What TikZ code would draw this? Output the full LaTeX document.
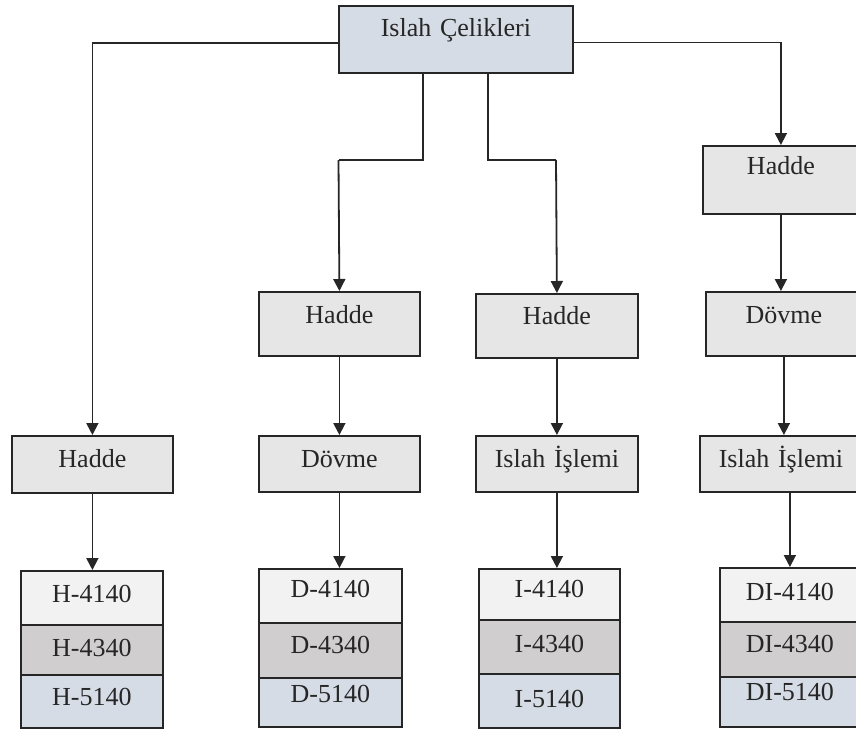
\documentclass[tikz,border=0pt]{standalone}
\usepackage{fontspec}
\setmainfont{Liberation Serif}
\usetikzlibrary{arrows.meta}
\definecolor{topc}{HTML}{D6DCE5}
\definecolor{grayc}{HTML}{E6E6E6}
\definecolor{rowa}{HTML}{F2F2F2}
\definecolor{rowb}{HTML}{D0CECE}
\definecolor{rowc}{HTML}{D6DCE5}
\definecolor{ink}{HTML}{262626}
\tikzset{
  box/.style={draw=ink, line width=1.8pt, rectangle, inner sep=0pt, anchor=north west,
    align=center, text=ink, font=\fontsize{26}{30}\selectfont},
  conn/.style={draw=ink, line width=1.8pt, -{Triangle[width=12pt,length=12pt]}},
  link/.style={draw=ink, line width=1.8pt}
}
% name, x, y, width, text height, text depth, fill, text
\newcommand\bx[8]{\node[box, fill=#7, text width=#4pt, text height=#5pt, text depth=#6pt] (#1) at (#2,#3) {#8};}
\begin{document}
\begin{tikzpicture}[x=1pt,y=-1pt]
\useasboundingbox (0,0) rectangle (856,728);
\clip (0,0) rectangle (856,728);
\fill[white] (0,0) rectangle (856,728);
% top
\bx{top}{338}{5}{234}{31}{36}{topc}{Islah Çelikleri}
% column 1
\bx{c1a}{11}{435}{161}{32}{25}{grayc}{Hadde}
\bx{c1r1}{20}{570}{142}{32}{22}{rowa}{H-4140}
\bx{c1r2}{20}{624}{142}{32}{18}{rowb}{H-4340}
\bx{c1r3}{20}{674}{142}{31}{22}{rowc}{H-5140}
% column 2
\bx{c2a}{258}{291}{161}{32}{32}{grayc}{Hadde}
\bx{c2b}{258}{435}{161}{32}{24}{grayc}{Dövme}
\bx{c2r1}{258}{568}{143}{29}{25}{rowa}{D-4140}
\bx{c2r2}{258}{622}{143}{31}{24}{rowb}{D-4340}
\bx{c2r3}{258}{677}{143}{25}{24}{rowc}{D-5140}
% column 3
\bx{c3a}{475}{293}{162}{31}{33}{grayc}{Hadde}
\bx{c3b}{475}{435}{162}{32}{24}{grayc}{Islah İşlemi}
\bx{c3r1}{478}{568}{141}{29}{22}{rowa}{I-4140}
\bx{c3r2}{478}{619}{141}{33}{21}{rowb}{I-4340}
\bx{c3r3}{478}{673}{141}{34}{20}{rowc}{I-5140}
% column 4
\bx{c4a}{702}{145}{156}{29}{39}{grayc}{Hadde}
\bx{c4b}{705}{291}{156}{32}{32}{grayc}{Dövme}
\bx{c4c}{699}{435}{162}{32}{24}{grayc}{Islah İşlemi}
\bx{c4r1}{719}{567}{140}{33}{21}{rowa}{DI-4140}
\bx{c4r2}{719}{621}{140}{31}{24}{rowb}{DI-4340}
\bx{c4r3}{719}{676}{140}{24}{26}{rowc}{DI-5140}
% elbow points
\coordinate (e2) at (338.5,160);
\coordinate (e3) at (556,160);
% connectors from top
\draw[conn] ([yshift=-3.5pt]top.west) -| (c1a.north);
\draw[conn] ([yshift=-3pt]top.east) -| (c4a.north);
\draw[link] ([xshift=-33pt]top.south) |- (e2);
\draw[conn] (e2) -- (c2a.north);
\draw[link] ([xshift=32pt]top.south) |- (e3);
\draw[conn] (e3) -- (c3a.north);
% vertical connectors
\draw[conn] (c1a.south) -- (c1a.south |- c1r1.north);
\draw[conn] (c2a.south) -- (c2a.south |- c2b.north);
\draw[conn] (c2b.south) -- (c2b.south |- c2r1.north);
\draw[conn] (c3a.south) -- (c3a.south |- c3b.north);
\draw[conn] (c3b.south) -- (c3b.south |- c3r1.north);
\draw[conn] (c4a.south) -- (c4a.south |- c4b.north);
\draw[conn] (c4b.south) -- (c4b.south |- c4c.north);
\draw[conn] (c4c.south -| c4r1.north) -- (c4r1.north);
\end{tikzpicture}
\end{document}
